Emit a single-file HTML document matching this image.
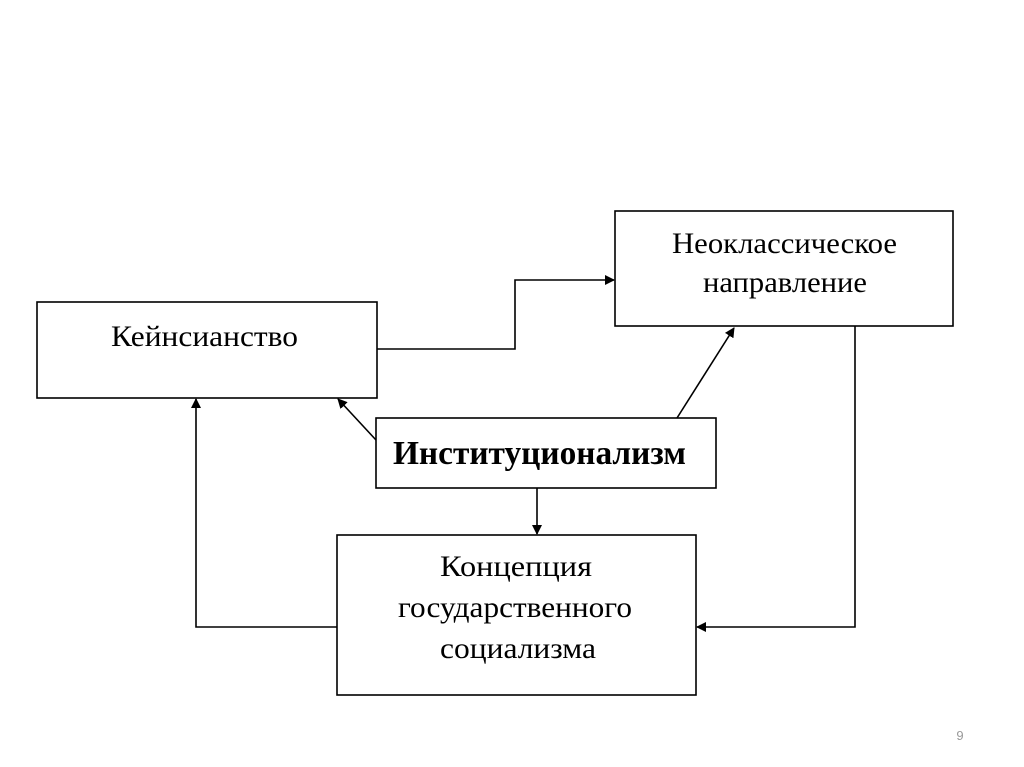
<!DOCTYPE html>
<html><head><meta charset="utf-8"><style>
html,body{margin:0;padding:0;background:#fff;}
svg{display:block;}
text{font-family:"Liberation Serif",serif;fill:#000;}
</style></head><body>
<svg width="1024" height="767" viewBox="0 0 1024 767" xmlns="http://www.w3.org/2000/svg">
<defs>
<marker id="a" markerWidth="10" markerHeight="10" refX="9" refY="5" orient="auto" markerUnits="userSpaceOnUse">
<path d="M0,0 L10,5 L0,10 z" fill="#000"/>
</marker>
</defs>
<g fill="none" stroke="#000" stroke-width="1.6">
<rect x="37" y="302" width="340" height="96"/>
<rect x="615" y="211" width="338" height="115"/>
<rect x="376" y="418" width="340" height="70"/>
<rect x="337" y="535" width="359" height="160"/>
<polyline points="377,349 515,349 515,280 614,280" marker-end="url(#a)"/>
<line x1="677" y1="418" x2="734" y2="328" marker-end="url(#a)"/>
<line x1="376" y1="440" x2="338" y2="399" marker-end="url(#a)"/>
<line x1="537" y1="488" x2="537" y2="534" marker-end="url(#a)"/>
<polyline points="855,326 855,627 697,627" marker-end="url(#a)"/>
<polyline points="337,627 196,627 196,399" marker-end="url(#a)"/>
</g>
<text x="111" y="346" font-size="30" textLength="187" lengthAdjust="spacingAndGlyphs">Кейнсианство</text>
<text x="672" y="253" font-size="30" textLength="225" lengthAdjust="spacingAndGlyphs">Неоклассическое</text>
<text x="703" y="292" font-size="30" textLength="164" lengthAdjust="spacingAndGlyphs">направление</text>
<text x="393" y="464" font-size="34" style="font-weight:bold" textLength="293" lengthAdjust="spacingAndGlyphs">Институционализм</text>
<text x="440" y="576" font-size="30" textLength="152" lengthAdjust="spacingAndGlyphs">Концепция</text>
<text x="398" y="617" font-size="30" textLength="234" lengthAdjust="spacingAndGlyphs">государственного</text>
<text x="440" y="658" font-size="30" textLength="156" lengthAdjust="spacingAndGlyphs">социализма</text>
<text x="960" y="740" font-size="13" text-anchor="middle" style="fill:#999;font-family:'Liberation Sans',sans-serif">9</text>
</svg>
</body></html>
